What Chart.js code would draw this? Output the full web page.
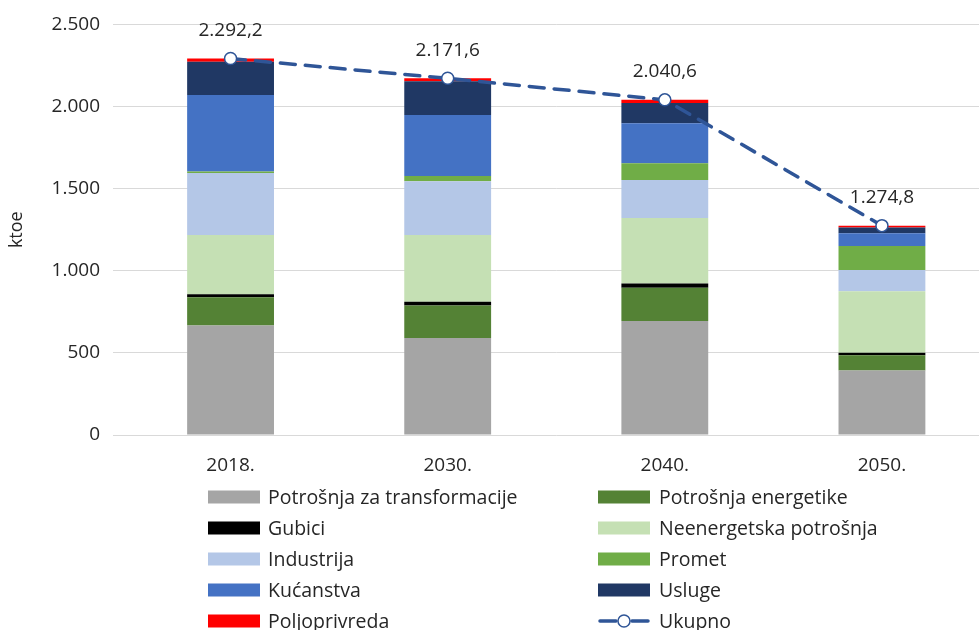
<!DOCTYPE html>
<html>
<head>
<meta charset="utf-8">
<script src="https://cdn.jsdelivr.net/npm/chart.js@4.4.1/dist/chart.umd.min.js"></script>
<style>
  html, body { margin: 0; padding: 0; background: #fff; overflow: hidden; }
  canvas { display: block; }
</style>
</head>
<body>
<canvas id="energyChart" width="998" height="630"></canvas>
<script>
// --- data (ktoe) ---
const years = ['2018.', '2030.', '2040.', '2050.'];
const transformacija = [667, 590, 694, 392];
const energetika = [172, 198, 202, 93];
const gubici = [18, 24, 26, 16];
const neenergetska = [360, 405, 399, 375];
const industrija = [378, 328, 231, 129];
const promet = [10, 32, 103, 146];
const kucanstva = [465, 372, 243, 77];
const usluge = [203, 205, 123, 36];
const poljoprivreda = [20, 18, 20, 10];
const ukupno = [2292.2, 2171.6, 2040.6, 1274.8];
const yTicks = [0, 500, 1000, 1500, 2000, 2500];

const FONT = '"Open Sans", Lato, sans-serif';
const TEXT = '#262626';
const LINE_BLUE = '#2F5597';

// hr format: 2.292,2
function fmt(v, dec) {
    const parts = v.toFixed(dec).split('.');
    const int = parts[0].replace(/\B(?=(\d{3})+(?!\d))/g, '.');
    return dec ? int + ',' + parts[1] : int;
}

function bar(label, data, color) {
    return { type: 'bar', label, data, backgroundColor: color, borderWidth: 0, stack: 'bars', order: 1 };
}

const datasets = [
    bar('Potrošnja za transformacije', transformacija, '#A5A5A5'),
    bar('Potrošnja energetike', energetika, '#548235'),
    bar('Gubici', gubici, '#000000'),
    bar('Neenergetska potrošnja', neenergetska, '#C5E0B4'),
    bar('Industrija', industrija, '#B4C7E7'),
    bar('Promet', promet, '#70AD47'),
    bar('Kućanstva', kucanstva, '#4472C4'),
    bar('Usluge', usluge, '#203864'),
    bar('Poljoprivreda', poljoprivreda, '#FF0000'),
    {
        type: 'line', label: 'Ukupno', data: ukupno, stack: 'total', order: 0,
        borderColor: LINE_BLUE, borderWidth: 3.5, borderDash: [15, 10], borderCapStyle: 'round',
        pointRadius: 6, pointBackgroundColor: '#fff', pointBorderColor: LINE_BLUE, pointBorderWidth: 1.5,
        tension: 0, fill: false
    }
];

// value labels above the total line
const totalLabels = {
    id: 'totalLabels',
    afterDatasetsDraw(chart) {
        const ctx = chart.ctx;
        const idx = chart.data.datasets.length - 1;
        const meta = chart.getDatasetMeta(idx);
        ctx.save();
        ctx.font = '19px ' + FONT;
        ctx.fillStyle = TEXT;
        ctx.textAlign = 'center';
        ctx.textBaseline = 'middle';
        meta.data.forEach((pt, i) => {
            ctx.fillText(fmt(chart.data.datasets[idx].data[i], 1), pt.x, pt.y - 28);
        });
        ctx.restore();
    }
};

// two-column legend like the original
const twoColLegend = {
    id: 'twoColLegend',
    afterDraw(chart) {
        const ctx = chart.ctx;
        const cols = [{ box: 208, text: 268 }, { box: 598, text: 659 }];
        const rowY = 497, rowStep = 31, boxW = 52, boxH = 13;
        ctx.save();
        ctx.font = '19.5px ' + FONT;
        ctx.textBaseline = 'middle';
        chart.data.datasets.forEach((ds, i) => {
            const c = cols[i % 2];
            const y = rowY + Math.floor(i / 2) * rowStep;
            if (ds.type === 'line') {
                ctx.strokeStyle = ds.borderColor;
                ctx.lineWidth = 3.5;
                ctx.lineCap = 'round';
                ctx.beginPath();
                ctx.moveTo(c.box + 2, y); ctx.lineTo(c.box + 18, y);
                ctx.moveTo(c.box + 34, y); ctx.lineTo(c.box + boxW - 2, y);
                ctx.stroke();
                ctx.beginPath();
                ctx.arc(c.box + boxW / 2, y, 6, 0, Math.PI * 2);
                ctx.fillStyle = '#fff';
                ctx.fill();
                ctx.lineWidth = 1.5;
                ctx.stroke();
            } else {
                ctx.fillStyle = ds.backgroundColor;
                ctx.fillRect(c.box, y - boxH / 2, boxW, boxH);
            }
            ctx.fillStyle = TEXT;
            ctx.fillText(ds.label, c.text, y + 1);
        });
        ctx.restore();
    }
};

new Chart(document.getElementById('energyChart'), {
    data: { labels: years, datasets },
    options: {
        responsive: false,
        animation: false,
        layout: { padding: { top: 22, right: 0, bottom: 0, left: 0 } },
        datasets: { bar: { barPercentage: 0.4, categoryPercentage: 1 } },
        plugins: { legend: { display: false }, tooltip: { enabled: false } },
        scales: {
            x: {
                stacked: true,
                grid: { display: false, drawTicks: false },
                border: { display: false },
                ticks: { color: TEXT, font: { family: FONT, size: 19 }, padding: 19 },
                afterFit: s => { s.height = 195; }
            },
            y: {
                stacked: true,
                min: 0, max: 2500,
                afterBuildTicks: s => { s.ticks = yTicks.map(v => ({ value: v })); },
                grid: { color: '#D9D9D9', lineWidth: 1, tickLength: 9 },
                border: { display: false },
                ticks: { color: TEXT, font: { family: FONT, size: 19 }, padding: 13, callback: v => fmt(v, 0) },
                title: { display: true, text: 'ktoe', color: TEXT, font: { family: FONT, size: 18 }, padding: { top: 6, bottom: 4 } },
                afterFit: s => { s.width = 122; }
            }
        }
    },
    plugins: [totalLabels, twoColLegend]
});
</script>
</body>
</html>
